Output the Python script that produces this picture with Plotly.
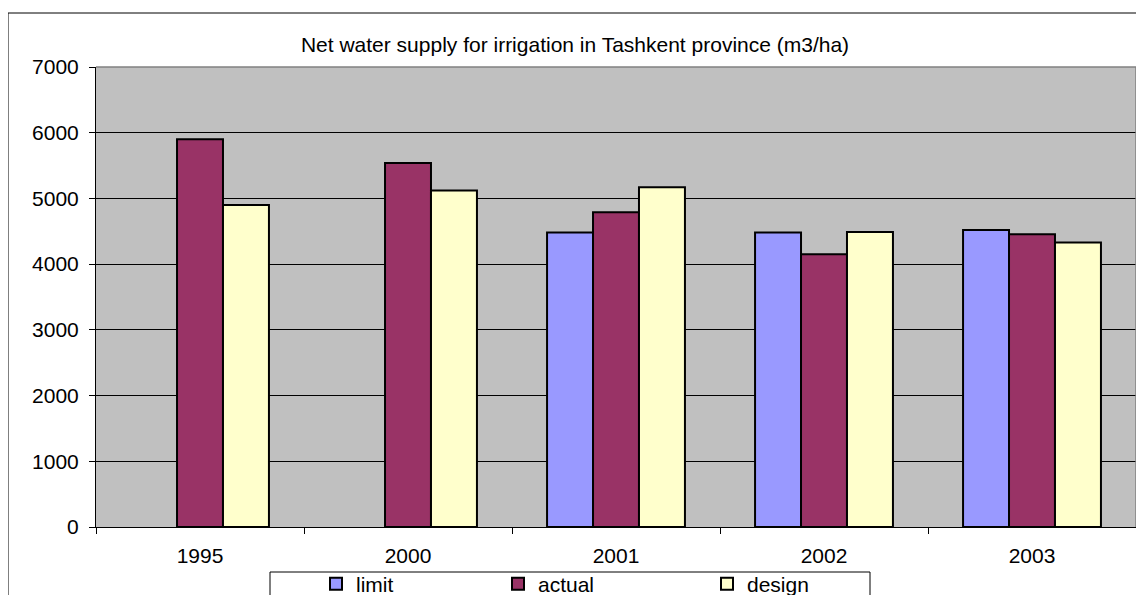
import plotly.graph_objects as go

years = ["1995", "2000", "2001", "2002", "2003"]
limit = [None, None, 4480, 4480, 4520]
actual = [5900, 5540, 4790, 4150, 4455]
design = [4900, 5120, 5170, 4490, 4330]

FONT = "Liberation Sans, Arial, sans-serif"
FS = 21

# page body has an 8px margin; figure coordinates = page coordinates - 8
OFF = 8
FW, FH = 1144 - OFF, 595 - OFF

fig = go.Figure()
fig.add_trace(go.Bar(name="limit", x=years, y=limit, showlegend=True,
                     marker=dict(color="#9999FF", line=dict(color="black", width=2)),
                     legend="legend"))
fig.add_trace(go.Bar(name="actual", x=years, y=actual, showlegend=True,
                     marker=dict(color="#993366", line=dict(color="black", width=2)),
                     legend="legend2"))
fig.add_trace(go.Bar(name="design", x=years, y=design, showlegend=True,
                     marker=dict(color="#FFFFCC", line=dict(color="black", width=2)),
                     legend="legend3"))

# plot area in page pixels
L, R, T, B = 96, 1136, 67, 527
W, H = R - L, B - T

def px(x):
    return (x - L) / W

def py(y):
    return (B - y) / H

def cx(x):
    return (x - OFF) / FW

def cy(y):
    return 1 - (y - OFF) / FH

leg_common = dict(orientation="h", yanchor="middle", xanchor="left",
                  xref="container", yref="container",
                  bgcolor="rgba(0,0,0,0)", borderwidth=0,
                  font=dict(family=FONT, size=FS, color="black"))

fig.update_layout(
    width=FW, height=FH,
    showlegend=True,
    margin=dict(l=L - OFF, r=1144 - R, t=T - OFF, b=595 - B, autoexpand=False),
    paper_bgcolor="white",
    plot_bgcolor="#C0C0C0",
    barmode="group",
    bargap=0.337,
    bargroupgap=0,
    font=dict(family=FONT, size=FS, color="black"),
    title=dict(text="Net water supply for irrigation in Tashkent province (m3/ha)",
               x=cx(575), xref="container", xanchor="center",
               y=cy(45), yref="container", yanchor="middle",
               font=dict(family=FONT, size=FS, color="black")),
    legend=dict(x=cx(316), y=cy(584), **leg_common),
    legend2=dict(x=cx(498), y=cy(584), **leg_common),
    legend3=dict(x=cx(707), y=cy(584), **leg_common),
    xaxis=dict(type="category", showgrid=False, showline=True, linecolor="black", linewidth=1,
               ticks="outside", tickson="boundaries", ticklen=6, tickcolor="black",
               ticklabelstandoff=10, tickfont=dict(family=FONT, size=FS, color="black")),
    yaxis=dict(range=[0, 7000], dtick=1000, showgrid=True, gridcolor="black", gridwidth=1,
               zeroline=False, showline=True, linecolor="black", linewidth=1,
               ticks="outside", ticklen=6, tickcolor="black", ticklabelstandoff=6,
               tickfont=dict(family=FONT, size=FS, color="black")),
    shapes=[
        # plot area top/right border (grey)
        dict(type="line", xref="paper", yref="paper", x0=0, x1=1, y0=1, y1=1,
             line=dict(color="#808080", width=1.5), layer="above"),
        dict(type="line", xref="paper", yref="paper", x0=1, x1=1, y0=0, y1=1,
             line=dict(color="#808080", width=1.5), layer="above"),
        # outer chart frame
        dict(type="rect", xref="paper", yref="paper", x0=px(8), x1=px(1160),
             y0=py(13), y1=py(620), line=dict(color="black", width=1), layer="above"),
        # legend box
        dict(type="rect", xref="paper", yref="paper", x0=px(270), x1=px(870),
             y0=py(572), y1=py(620), line=dict(color="black", width=1), layer="above"),
    ],
)

fig.write_html("out.html")
